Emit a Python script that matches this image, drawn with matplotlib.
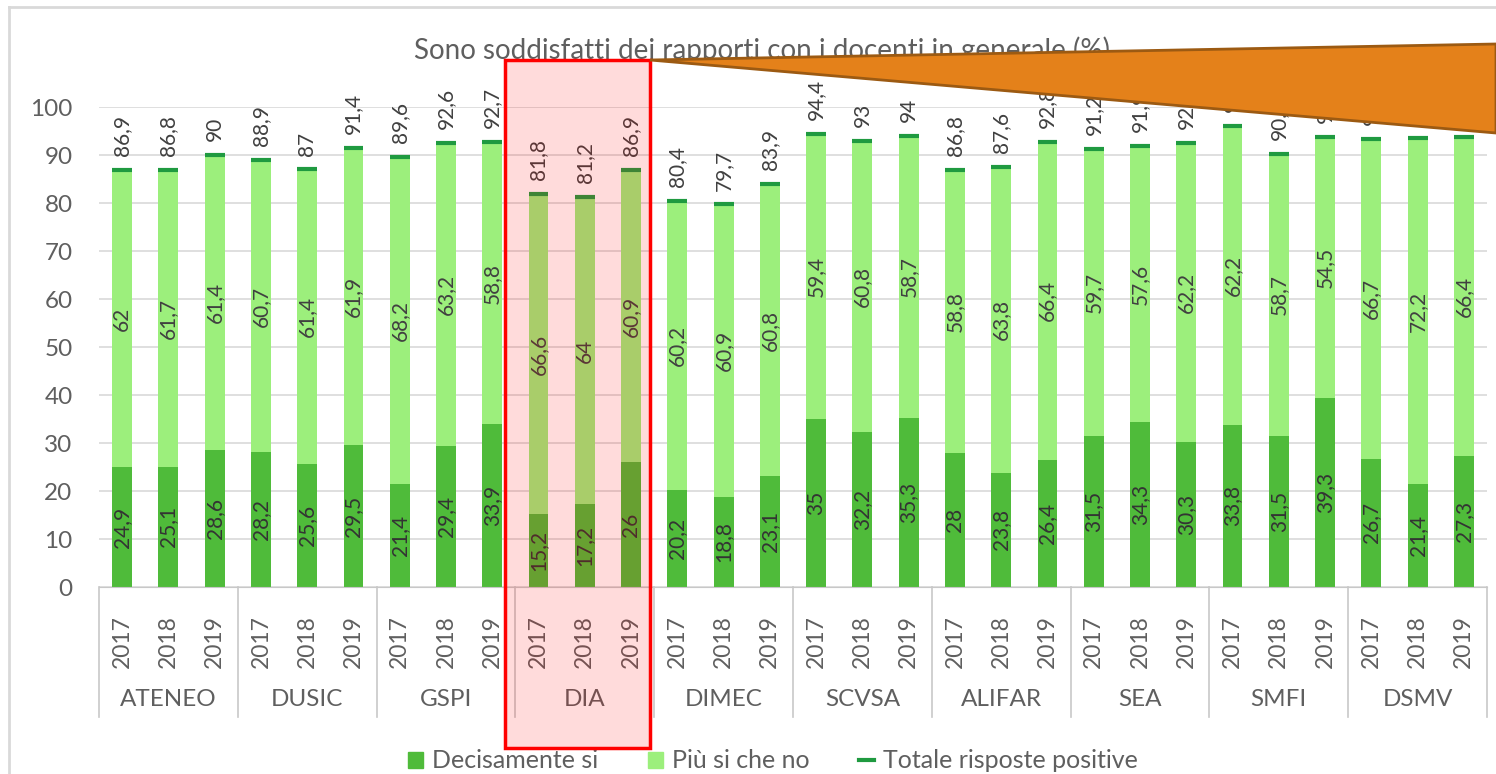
import matplotlib
matplotlib.use("Agg")
import matplotlib.pyplot as plt
import numpy as np
from matplotlib.patches import Rectangle, Polygon, Patch
from matplotlib.lines import Line2D
import matplotlib.transforms as mtransforms

plt.rcParams['font.family'] = ['Lato', 'DejaVu Sans']

groups = ["ATENEO", "DUSIC", "GSPI", "DIA", "DIMEC", "SCVSA", "ALIFAR", "SEA", "SMFI", "DSMV"]
years = ["2017", "2018", "2019"]

decisamente = [24.9, 25.1, 28.6,
               28.2, 25.6, 29.5,
               21.4, 29.4, 33.9,
               15.2, 17.2, 26,
               20.2, 18.8, 23.1,
               35, 32.2, 35.3,
               28, 23.8, 26.4,
               31.5, 34.3, 30.3,
               33.8, 31.5, 39.3,
               26.7, 21.4, 27.3]
piu_si = [62, 61.7, 61.4,
          60.7, 61.4, 61.9,
          68.2, 63.2, 58.8,
          66.6, 64, 60.9,
          60.2, 60.9, 60.8,
          59.4, 60.8, 58.7,
          58.8, 63.8, 66.4,
          59.7, 57.6, 62.2,
          62.2, 58.7, 54.5,
          66.7, 72.2, 66.4]
totale = [86.9, 86.8, 90,
          88.9, 87, 91.4,
          89.6, 92.6, 92.7,
          81.8, 81.2, 86.9,
          80.4, 79.7, 83.9,
          94.4, 93, 94,
          86.8, 87.6, 92.8,
          91.2, 91.9, 92.5,
          96, 90.2, 93.8,
          93.4, 93.6, 93.7]

W, H = 1496, 774
fig = plt.figure(figsize=(W / 100, H / 100), dpi=100)

def fx(px):
    return px / W

def fy(py):
    return (H - py) / H

ax_left, ax_right, ax_top, ax_bot = 99, 1487, 107, 587
ax = fig.add_axes([fx(ax_left), fy(ax_bot), fx(ax_right - ax_left), fy(ax_top) - fy(ax_bot)])

DARK = "#4fbb3a"
LIGHT = "#9cef7c"
MARK = "#1f9a40"
TXT = "#404040"
GRAY = "#5f5f5f"

n = len(decisamente)
x = np.arange(n)
bw = 0.43
ax.bar(x, decisamente, width=bw, color=DARK, zorder=2)
ax.bar(x, piu_si, width=bw, bottom=decisamente, color=LIGHT, zorder=2)
ax.hlines(totale, x - bw / 2, x + bw / 2, color=MARK, lw=3, zorder=3)

def fmt(v):
    return f"{v:g}".replace('.', ',')

for i in range(n):
    d, p, t = decisamente[i], piu_si[i], totale[i]
    ax.text(x[i], d / 2, fmt(d), rotation=90, ha='center', va='center',
            fontsize=15, color="#333333", zorder=4)
    ax.text(x[i], d + p / 2, fmt(p), rotation=90, ha='center', va='center',
            fontsize=15, color=TXT, zorder=4)
    ax.annotate(fmt(t), (x[i], t), xytext=(0, 10), textcoords='offset points',
                rotation=90, ha='center', va='bottom', fontsize=15, color=TXT,
                zorder=4, annotation_clip=False)

ax.set_xlim(-0.5, n - 0.5)
ax.set_ylim(0, 100)
ax.set_yticks(range(0, 101, 10))
ax.yaxis.grid(True, color="#d9d9d9", lw=1.2, zorder=0)
ax.set_axisbelow(True)
for s in ["top", "right", "left"]:
    ax.spines[s].set_visible(False)
ax.spines["bottom"].set_color("#c8c8c8")
ax.tick_params(axis='y', length=0, pad=19, labelsize=17.5, labelcolor=GRAY)
ax.set_xticks(x)
ax.set_xticklabels(years * len(groups), rotation=90)
ax.tick_params(axis='x', length=0, pad=20, labelsize=16.5, labelcolor=GRAY)

# group separators and labels
trans = mtransforms.blended_transform_factory(ax.transData, fig.transFigure)
for g in range(len(groups) + 1):
    xs = g * 3 - 0.5
    ax.add_line(Line2D([xs, xs], [fy(ax_bot), fy(717)], transform=trans,
                       color="#c8c8c8", lw=1.2, clip_on=False))
for g, name in enumerate(groups):
    fig.text(g * 3 + 1, fy(700), name, transform=trans, ha='center', va='center',
             fontsize=17.5, color=GRAY)

# title
fig.text(fx(762), fy(50), "Sono soddisfatti dei rapporti con i docenti in generale (%)",
         ha='center', va='center', fontsize=20, color=GRAY)

# legend
handles = [Patch(color=DARK), Patch(color=LIGHT),
           Line2D([0], [0], color=MARK, lw=3)]
labels = ["Decisamente si", "Più si che no", "Totale risposte positive"]
fig.legend(handles, labels, loc='center', bbox_to_anchor=(fx(773), fy(761)),
           ncol=3, frameon=False, fontsize=18, handlelength=0.6, handleheight=0.6,
           handletextpad=0.35, columnspacing=2.0, labelcolor=GRAY)

# outer frame lines
fig.add_artist(Line2D([fx(9), fx(9)], [fy(7), 0], color="#d9d9d9", lw=2))
fig.add_artist(Line2D([fx(9), 1], [fy(7), fy(7)], color="#d9d9d9", lw=2))

# pink highlight box for DIA
fig.add_artist(Rectangle((fx(505), fy(748)), fx(650 - 505), fy(60) - fy(748),
                         transform=fig.transFigure, facecolor=(1, 0, 0, 0.14),
                         edgecolor="#ff0000", lw=2.5, zorder=10))

# orange callout triangle
fig.add_artist(Polygon([(fx(650), fy(60)), (fx(1496), fy(44)), (fx(1496), fy(133))],
                       closed=True, transform=fig.transFigure,
                       facecolor="#e4811a", edgecolor="#9c5a12", lw=2, zorder=11))

fig.savefig("out.png", dpi=100)
